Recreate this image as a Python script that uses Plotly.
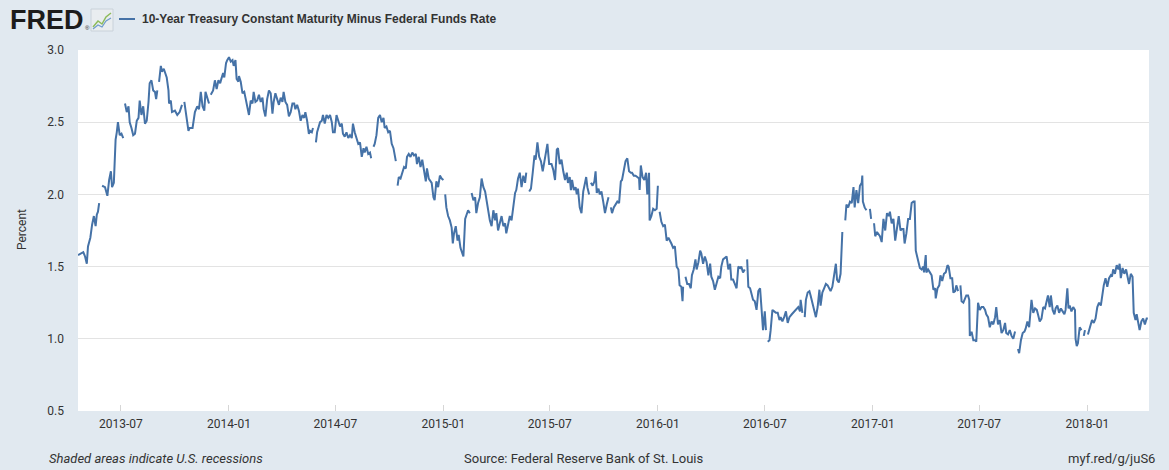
import pandas as pd
import plotly.graph_objects as go

# ---------------- data ----------------
# observations: (days since START_DATE, percent); None marks a missing value (holiday gap)
START_DATE = "2013-04-19"
END_DATE = "2018-04-16"

obs_part1 = [
    (0, 1.58), (6, 1.59), (9, 1.60), (12, 1.57), (15, 1.52), (17, 1.64), (21, 1.70), (24, 1.79),
    (27, 1.85), (30, 1.78), (32, 1.86), (34, 1.88), (36, 1.94), (38, None), (41, 2.06), (46, 2.05),
    (50, 1.99), (53, 2.10), (56, 2.16), (58, 2.05), (61, 2.08), (64, 2.38), (66, 2.43), (68, 2.50),
    (71, 2.41), (74, 2.42), (77, 2.39), (78, None), (80, 2.63), (83, 2.57), (86, 2.61), (88, 2.50),
    (91, 2.46), (94, 2.41), (97, 2.42), (100, 2.51), (103, 2.53), (105, 2.65), (108, 2.55), (111, 2.61),
    (114, 2.49), (117, 2.51), (120, 2.64), (122, 2.77), (125, 2.79), (128, 2.72), (131, 2.71), (133, 2.66),
    (135, 2.72), (136, None), (138, 2.78), (141, 2.89), (143, 2.85), (146, 2.87), (151, 2.81), (154, 2.72),
    (155, 2.63), (158, 2.65), (160, 2.57), (165, 2.58), (169, 2.55), (173, 2.57), (177, 2.62), (179, None),
    (181, 2.64), (184, 2.54), (188, 2.44),
]
obs_part2 = [
    (190, 2.46), (195, 2.46), (199, 2.57), (203, 2.61), (206, 2.59), (209, 2.71), (212, 2.61), (215, 2.58),
    (217, 2.71), (220, 2.66), (223, 2.63), (224, None), (226, 2.69), (230, 2.72), (233, 2.79), (236, 2.73),
    (239, 2.79), (242, 2.77), (244, 2.80), (247, 2.84), (249, 2.81), (252, 2.91), (254, 2.93), (257, 2.95),
    (260, 2.92), (263, 2.93), (265, 2.89), (268, 2.93), (270, 2.80), (273, 2.78), (274, 2.82), (277, 2.78),
    (280, 2.70), (283, 2.71), (285, 2.67), (288, 2.61), (291, 2.55), (294, 2.65), (297, 2.63), (299, 2.71),
    (302, 2.64), (305, 2.65), (308, 2.69), (311, 2.64), (314, 2.67), (316, 2.59), (319, 2.54), (322, 2.66),
    (325, 2.72), (328, 2.70), (331, 2.56), (333, 2.64), (336, 2.70), (339, 2.66), (342, 2.62), (345, 2.67),
    (348, 2.64), (350, 2.71), (353, 2.64), (356, 2.62), (359, 2.54), (362, 2.57), (365, 2.63), (368, 2.63),
    (370, 2.59), (373, 2.62), (376, 2.58), (379, 2.51), (382, 2.55), (385, 2.53), (387, 2.57), (390, 2.51),
    (393, 2.42),
]
obs_part3 = [
    (395, 2.44), (398, 2.43), (400, 2.46), (402, None), (405, 2.36), (407, 2.43), (412, 2.50), (415, 2.51),
    (417, 2.55), (420, 2.49), (423, 2.55), (426, 2.53), (429, 2.55), (432, 2.50), (434, 2.43), (437, 2.43),
    (440, 2.55), (443, 2.51), (446, 2.47), (449, 2.49), (451, 2.42), (454, 2.40), (457, 2.43), (460, 2.39),
    (463, 2.41), (466, 2.39), (468, 2.49), (471, 2.43), (474, 2.39), (477, 2.35), (480, 2.36), (483, 2.26),
    (486, 2.32), (488, 2.29), (491, 2.33), (494, 2.28), (497, 2.29), (499, 2.25), (500, None), (503, 2.33),
    (505, 2.35), (508, 2.41), (511, 2.53), (514, 2.55), (517, 2.50), (520, 2.53), (522, 2.46), (525, 2.47),
    (528, 2.43), (531, 2.44), (534, 2.35), (537, 2.32), (539, 2.26), (541, 2.23), (542, None), (544, 2.06),
    (546, 2.12), (549, 2.11), (552, 2.15), (555, 2.19), (558, 2.18), (560, 2.26), (563, 2.28), (566, 2.26),
    (569, 2.29), (572, 2.27), (575, 2.28), (577, 2.21), (580, 2.26), (583, 2.19), (586, 2.24), (589, 2.16),
    (592, 2.09), (594, 2.18), (597, 2.11),
]
obs_part4 = [
    (602, 2.08), (605, 1.98), (607, 1.96), (610, 2.09), (613, 2.05), (616, 2.13), (619, 2.11), (622, 2.10),
    (623, None), (625, 2.00), (627, 1.91), (630, 1.85), (633, 1.82), (636, 1.77), (638, 1.66), (640, 1.73),
    (643, 1.78), (646, 1.68), (648, 1.72), (651, 1.63), (654, 1.60), (656, 1.57), (659, 1.83), (661, 1.85),
    (664, 1.89), (667, 1.87), (668, None), (670, 2.01), (673, 1.96), (676, 1.98), (678, 1.87), (681, 1.94),
    (684, 1.98), (687, 2.11), (690, 2.05), (693, 2.02), (695, 1.97), (698, 1.90), (701, 1.82), (704, 1.78),
    (707, 1.89), (710, 1.82), (712, 1.87), (715, 1.75), (718, 1.80), (721, 1.85), (724, 1.78), (727, 1.80),
    (729, 1.73), (732, 1.78), (735, 1.85), (738, 1.82), (741, 1.93), (744, 2.01), (746, 2.03), (749, 2.11),
    (752, 2.15), (755, 2.05), (758, 2.13), (761, 2.08), (763, 2.15), (765, None), (768, 2.02), (771, 2.04),
    (774, 2.15), (777, 2.27), (779, 2.24), (782, 2.36), (785, 2.26), (788, 2.23), (791, 2.16), (794, 2.24),
    (796, 2.28), (799, 2.35), (802, 2.21),
]
obs_part5 = [
    (806, 2.21), (809, 2.17), (812, 2.10), (815, 2.31), (817, 2.32), (820, 2.21), (823, 2.24), (826, 2.16),
    (829, 2.10), (832, 2.15), (834, 2.08), (837, 2.12), (839, 2.03), (841, 2.10), (844, 2.03), (847, 2.05),
    (849, 2.00), (851, 2.04), (854, 1.91), (857, 1.87), (860, 2.02), (863, 2.08), (865, 2.12), (867, 2.05),
    (870, 2.00), (871, None), (873, 2.08), (876, 2.06), (879, 2.09), (881, 2.16), (883, 2.01), (886, 2.04),
    (888, 2.00), (891, 2.02), (894, 1.95), (897, 1.87), (900, 1.93), (903, 1.98), (905, None), (907, 1.91),
    (909, 1.87), (912, 1.91), (915, 1.93), (918, 1.95), (921, 1.94), (924, 2.09), (926, 2.10), (929, 2.18),
    (932, 2.23), (935, 2.25), (938, 2.16), (941, 2.15), (943, 2.15), (946, 2.13), (949, 2.13), (952, 2.12),
    (955, 2.11), (956, 2.03), (958, 2.20), (961, 2.12), (964, 2.10), (967, 2.15), (969, 2.00), (972, 2.15),
    (973, 1.82), (976, 1.85), (979, 1.90), (982, 1.89), (985, 1.90), (987, 2.06), (988, None), (990, 1.88),
    (993, 1.81), (996, 1.78), (999, 1.79), (1002, 1.68), (1005, 1.70),
]
obs_part6 = [
    (1010, 1.66), (1013, 1.63), (1016, 1.64), (1019, 1.50), (1022, 1.48), (1024, 1.37), (1027, 1.36),
    (1029, 1.26), (1030, 1.36), (1032, None), (1034, 1.43), (1037, 1.38), (1040, 1.38), (1043, 1.35),
    (1045, 1.44), (1048, 1.48), (1051, 1.55), (1053, 1.48), (1056, 1.53), (1059, 1.61), (1061, 1.59),
    (1064, 1.52), (1067, 1.57), (1070, 1.53), (1073, 1.44), (1076, 1.52), (1078, 1.43), (1081, 1.40),
    (1084, 1.34), (1087, 1.38), (1090, 1.43), (1093, 1.42), (1095, 1.50), (1098, 1.55), (1101, 1.56),
    (1104, 1.57), (1107, 1.48), (1110, 1.52), (1112, 1.41), (1115, 1.41), (1118, 1.38), (1121, 1.35),
    (1124, 1.50), (1127, 1.49), (1129, 1.50), (1132, 1.46), (1135, 1.48), (1137, None), (1139, 1.55),
    (1141, 1.36), (1144, 1.35), (1146, 1.32), (1149, 1.27), (1152, 1.26), (1155, 1.20), (1158, 1.33),
    (1161, 1.35), (1164, 1.18), (1166, 1.06), (1169, 1.19), (1171, 1.06), (1172, None), (1174, 0.98),
    (1177, 0.99), (1179, 1.06), (1182, 1.20), (1185, 1.19), (1188, 1.18), (1191, 1.18), (1194, 1.13),
    (1196, 1.15), (1199, 1.12), (1202, 1.15), (1205, 1.19), (1208, 1.11), (1211, 1.15),
]
obs_part7 = [
    (1215, 1.17), (1217, 1.18), (1220, 1.19), (1223, 1.21), (1226, 1.22), (1229, 1.19), (1230, 1.27),
    (1233, 1.18), (1235, None), (1237, 1.15), (1239, 1.27), (1242, 1.32), (1245, 1.33), (1247, 1.30),
    (1250, 1.25), (1253, 1.21), (1256, 1.15), (1259, 1.22), (1262, 1.34), (1264, 1.23), (1267, 1.32),
    (1270, 1.35), (1273, 1.38), (1276, 1.37), (1279, 1.34), (1281, 1.33), (1284, 1.36), (1287, 1.44),
    (1290, 1.52), (1292, 1.41), (1295, 1.39), (1298, 1.45), (1300, 1.66), (1301, 1.74), (1303, None),
    (1306, 1.82), (1308, 1.93), (1311, 1.91), (1314, 1.95), (1317, 1.94), (1320, 2.05), (1322, 1.91),
    (1325, 2.03), (1328, 1.94), (1331, 2.06), (1334, 2.08), (1335, 2.13), (1336, 1.95), (1339, 1.91),
    (1342, 1.89), (1345, None), (1348, 1.90), (1350, 1.83), (1353, None), (1355, 1.80), (1357, 1.71),
    (1360, 1.74), (1363, 1.72), (1365, 1.71), (1368, 1.67), (1371, 1.83), (1374, 1.75), (1377, 1.87),
    (1380, 1.85), (1382, 1.88), (1385, 1.80), (1388, 1.83), (1391, 1.68), (1394, 1.76), (1397, 1.85),
    (1400, 1.75), (1402, 1.76), (1405, 1.76), (1407, 1.66), (1410, 1.73), (1413, 1.83),
]
obs_part8 = [
    (1416, 1.83), (1419, 1.94), (1422, 1.95), (1424, 1.95), (1426, 1.61), (1428, 1.58), (1430, 1.55),
    (1433, 1.49), (1436, 1.48), (1439, 1.50), (1440, 1.46), (1443, 1.58), (1444, 1.46), (1447, 1.48),
    (1450, 1.46), (1453, 1.44), (1456, 1.34), (1459, 1.35), (1460, 1.28), (1463, 1.35), (1466, 1.37),
    (1468, 1.44), (1471, 1.40), (1474, 1.45), (1477, 1.46), (1480, 1.51), (1482, 1.50), (1485, 1.42),
    (1488, 1.42), (1490, 1.32), (1493, 1.33), (1495, 1.37), (1498, 1.33), (1500, None), (1502, 1.37),
    (1504, 1.26), (1507, 1.25), (1510, 1.29), (1512, 1.30), (1515, 1.30), (1517, 1.27), (1518, 1.02),
    (1521, 1.05), (1524, 0.99), (1527, 0.99), (1529, 0.98), (1532, 1.25), (1535, 1.20), (1538, 1.22),
    (1541, 1.22), (1544, 1.20), (1546, 1.17), (1549, 1.15), (1552, 1.08), (1555, 1.12), (1558, 1.10),
    (1561, 1.15), (1563, 1.22), (1566, 1.10), (1569, 1.13), (1572, 1.04), (1575, 1.06), (1578, 1.11),
    (1580, 1.04), (1583, 1.03), (1586, 1.06), (1589, 1.02), (1592, 1.00), (1595, 1.05), (1598, None),
    (1600, 0.93), (1602, 0.90), (1605, 0.99), (1608, 1.04), (1611, 1.05), (1613, 1.07), (1616, 1.12),
    (1619, 1.08),
]
obs_part9 = [
    (1623, 1.27), (1626, 1.18), (1629, 1.21), (1632, 1.20), (1634, 1.17), (1637, 1.12), (1640, 1.14),
    (1643, 1.22), (1646, 1.21), (1649, 1.27), (1651, 1.30), (1654, 1.22), (1656, 1.30), (1659, 1.20),
    (1662, 1.17), (1664, 1.21), (1667, 1.23), (1670, 1.18), (1673, 1.21), (1676, 1.19), (1679, 1.17),
    (1681, 1.20), (1684, 1.35), (1686, 1.21), (1688, 1.23), (1691, 1.19), (1694, 1.22), (1697, 1.20),
    (1698, 1.00), (1700, 0.95), (1702, 0.97), (1705, 1.08), (1708, 1.06), (1710, None), (1712, 1.02),
    (1714, 1.06), (1717, None), (1719, 1.03), (1721, 1.06), (1724, 1.10), (1726, 1.13), (1729, 1.11),
    (1732, 1.14), (1735, 1.22), (1738, 1.25), (1741, 1.23), (1743, 1.29), (1746, 1.37), (1749, 1.42),
    (1752, 1.36), (1755, 1.42), (1758, 1.44), (1760, 1.43), (1762, 1.48), (1765, 1.45), (1768, 1.51),
    (1771, 1.48), (1773, 1.52), (1775, 1.42), (1778, 1.49), (1781, 1.45), (1784, 1.48), (1786, 1.44),
    (1789, 1.38), (1792, 1.45), (1795, 1.43), (1797, 1.18), (1800, 1.13), (1802, 1.17), (1805, 1.10),
    (1807, 1.06), (1810, 1.12), (1813, 1.14), (1816, 1.10), (1819, 1.14), (1821, 1.14),
]

x_tick_dates = ["2013-07-01", "2014-01-01", "2014-07-01", "2015-01-01", "2015-07-01",
                "2016-01-01", "2016-07-01", "2017-01-01", "2017-07-01", "2018-01-01"]
x_tick_labels = ["2013-07", "2014-01", "2014-07", "2015-01", "2015-07",
                 "2016-01", "2016-07", "2017-01", "2017-07", "2018-01"]
y_tick_values = [0.5, 1.0, 1.5, 2.0, 2.5, 3.0]
y_tick_labels = ["0.5", "1.0", "1.5", "2.0", "2.5", "3.0"]

SERIES_NAME = "10-Year Treasury Constant Maturity Minus Federal Funds Rate"

# ---------------- build series ----------------
observations = (obs_part1 + obs_part2 + obs_part3 + obs_part4 + obs_part5 +
                obs_part6 + obs_part7 + obs_part8 + obs_part9)
start = pd.Timestamp(START_DATE)
dates = [start + pd.Timedelta(days=d) for d, _ in observations]
values = [v for _, v in observations]

# ---------------- figure ----------------
W, H = 1169, 470
ML, MR, MT, MB = 78, 20, 50, 59
PW, PH = W - ML - MR, H - MT - MB

def px(x):
    return (x - ML) / PW

def py(y):
    return (H - MB - y) / PH

NARROW = "Liberation Sans Narrow, Arial Narrow, Roboto, Liberation Sans, sans-serif"
BOLD = "Liberation Sans, Arial, sans-serif"
LINE_COLOR = "#4572A7"
BG = "#E1E9F0"

fig = go.Figure()
fig.add_trace(go.Scatter(x=dates, y=values, mode="lines", name=SERIES_NAME,
                         line=dict(color=LINE_COLOR, width=2), connectgaps=False))

fig.update_layout(
    width=W, height=H,
    paper_bgcolor=BG, plot_bgcolor="#FFFFFF",
    margin=dict(l=ML, r=MR, t=MT, b=MB, pad=0),
    showlegend=False,
)
fig.update_xaxes(
    type="date", range=[START_DATE, END_DATE],
    tickvals=x_tick_dates, ticktext=x_tick_labels,
    ticks="inside", ticklen=6, tickcolor="#d6d6d6", tickwidth=1,
    showgrid=False, zeroline=False, showline=False,
    tickfont=dict(family=NARROW, size=12, color="#333333"),
    ticklabelstandoff=4,
)
fig.update_yaxes(
    range=[0.5, 3.0], tickvals=y_tick_values, ticktext=y_tick_labels,
    showgrid=True, gridcolor="#e3e3e3", gridwidth=1,
    zeroline=False, showline=False, ticks="",
    tickfont=dict(family=NARROW, size=12, color="#333333"),
    ticklabelstandoff=13,
)

FOOT = dict(family=NARROW, size=13, color="#333333")
annotations = [
    dict(text="Percent", x=px(22), y=py(230), textangle=-90, showarrow=False,
         font=dict(family=NARROW, size=12, color="#333333"), xanchor="center", yanchor="middle"),
    dict(text="<b>FRED</b>", x=px(8), y=py(20), showarrow=False, xanchor="left", yanchor="middle",
         font=dict(family=BOLD, size=27, color="#1c1c1c")),
    dict(text="®", x=px(83), y=py(28), showarrow=False, xanchor="left", yanchor="middle",
         font=dict(family=BOLD, size=6, color="#1c1c1c")),
    dict(text="<b>" + SERIES_NAME + "</b>", x=px(140), y=py(19), showarrow=False,
         xanchor="left", yanchor="middle", font=dict(family=BOLD, size=12, color="#333333")),
    dict(text="<i>Shaded areas indicate U.S. recessions</i>", x=px(47), y=py(458), showarrow=False,
         xanchor="left", yanchor="middle", font=FOOT),
    dict(text="Source: Federal Reserve Bank of St. Louis", x=px(583), y=py(458), showarrow=False,
         xanchor="center", yanchor="middle", font=FOOT),
    dict(text="myf.red/g/juS6", x=px(1157), y=py(458), showarrow=False,
         xanchor="right", yanchor="middle", font=FOOT),
]
for a in annotations:
    a.update(xref="paper", yref="paper")
fig.update_layout(annotations=annotations)

shapes = [
    # FRED logo icon
    dict(type="rect", x0=px(91), x1=px(113), y0=py(31), y1=py(9),
         fillcolor="#e9edf0", line=dict(color="#c9d2da", width=1)),
    dict(type="path", path=f"M {px(93)} {py(27)} L {px(98)} {py(21)} L {px(102)} {py(24)} L {px(106)} {py(17)} L {px(111)} {py(13)}",
         line=dict(color="#8dbb5a", width=1.5)),
    dict(type="path", path=f"M {px(93)} {py(29)} L {px(98)} {py(25)} L {px(102)} {py(27)} L {px(106)} {py(21)} L {px(111)} {py(18)}",
         line=dict(color="#6f9ccc", width=1.2)),
    # legend swatch
    dict(type="line", x0=px(119), x1=px(135), y0=py(19), y1=py(19),
         line=dict(color=LINE_COLOR, width=2)),
]
for s in shapes:
    s.update(xref="paper", yref="paper")
fig.update_layout(shapes=shapes)

fig.write_html(
    "out.html",
    config={"displayModeBar": False},
    post_script=f"document.body.style.margin='0';document.body.style.background='{BG}';",
)
